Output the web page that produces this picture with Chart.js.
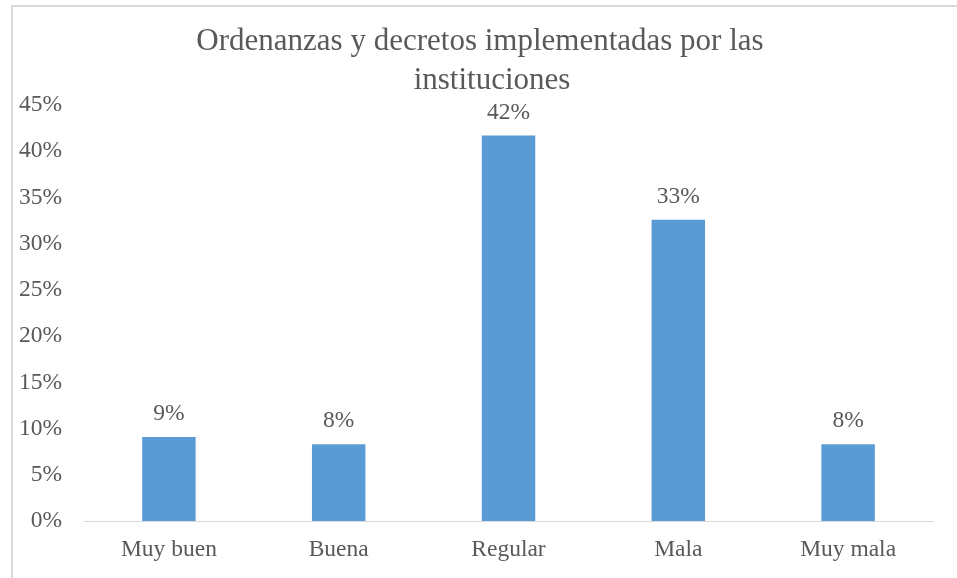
<!DOCTYPE html>
<html>
<head>
<meta charset="utf-8">
<script src="https://cdn.jsdelivr.net/npm/chart.js@4"></script>
<style>
  html, body { margin: 0; padding: 0; background: #fff; }
  body { width: 957px; height: 578px; position: relative; overflow: hidden; }
  #frame { position: absolute; left: 11px; top: 5px; width: 1000px; height: 700px;
           border-left: 2px solid #D9D9D9; border-top: 2px solid #D9D9D9; }
  #wrap { position: absolute; left: 0; top: 0; width: 957px; height: 578px; }
</style>
</head>
<body>
<div id="frame"></div>
<div id="wrap"><canvas id="c" width="957" height="578"></canvas></div>
<script>
const categories = ['Muy buen', 'Buena', 'Regular', 'Mala', 'Muy mala'];
const values = [9.1, 8.3, 41.7, 32.6, 8.3];
const titleLines = ['Ordenanzas y decretos implementadas por las', 'instituciones'];
const yMax = 45;
const yStep = 5;

const FONT = '"Liberation Serif", "Times New Roman", serif';
const TEXT = '#595959';
const LABEL_SIZE = 23.5;

const valueLabels = {
  id: 'valueLabels',
  afterDatasetsDraw(chart) {
    const ctx = chart.ctx;
    const meta = chart.getDatasetMeta(0);
    ctx.save();
    ctx.font = LABEL_SIZE + 'px ' + FONT;
    ctx.fillStyle = TEXT;
    ctx.textAlign = 'center';
    ctx.textBaseline = 'middle';
    meta.data.forEach((bar, i) => {
      ctx.fillText(Math.round(values[i]) + '%', bar.x, bar.y - 23);
    });
    ctx.restore();
  }
};

const chartTitle = {
  id: 'chartTitle',
  afterDraw(chart) {
    const ctx = chart.ctx;
    ctx.save();
    ctx.font = '31px ' + FONT;
    ctx.fillStyle = TEXT;
    ctx.textAlign = 'center';
    ctx.textBaseline = 'alphabetic';
    ctx.fillText(titleLines[0], 480, 50);
    ctx.fillText(titleLines[1], 492, 89);
    ctx.restore();
  }
};

new Chart(document.getElementById('c'), {
  type: 'bar',
  data: {
    labels: categories,
    datasets: [{
      data: values,
      backgroundColor: '#5B9BD5',
      borderWidth: 0,
      categoryPercentage: 1,
      barPercentage: 0.315
    }]
  },
  options: {
    responsive: false,
    animation: false,
    layout: { padding: { left: 0, right: 24, top: 105, bottom: 0 } },
    plugins: {
      legend: { display: false },
      tooltip: { enabled: false },
      title: { display: false }
    },
    scales: {
      x: {
        grid: { display: false, drawTicks: false },
        border: { display: true, color: '#D9D9D9', width: 1 },
        ticks: { color: TEXT, font: { family: FONT, size: LABEL_SIZE }, padding: 15 },
        afterFit(scale) { scale.height = 57; }
      },
      y: {
        min: 0,
        max: yMax,
        grid: { display: false, drawTicks: false },
        border: { display: false },
        ticks: {
          stepSize: yStep,
          color: TEXT,
          font: { family: FONT, size: LABEL_SIZE },
          padding: 22,
          callback: v => v + '%'
        },
        afterFit(scale) { scale.width = 84; }
      }
    }
  },
  plugins: [valueLabels, chartTitle]
});
</script>
</body>
</html>
